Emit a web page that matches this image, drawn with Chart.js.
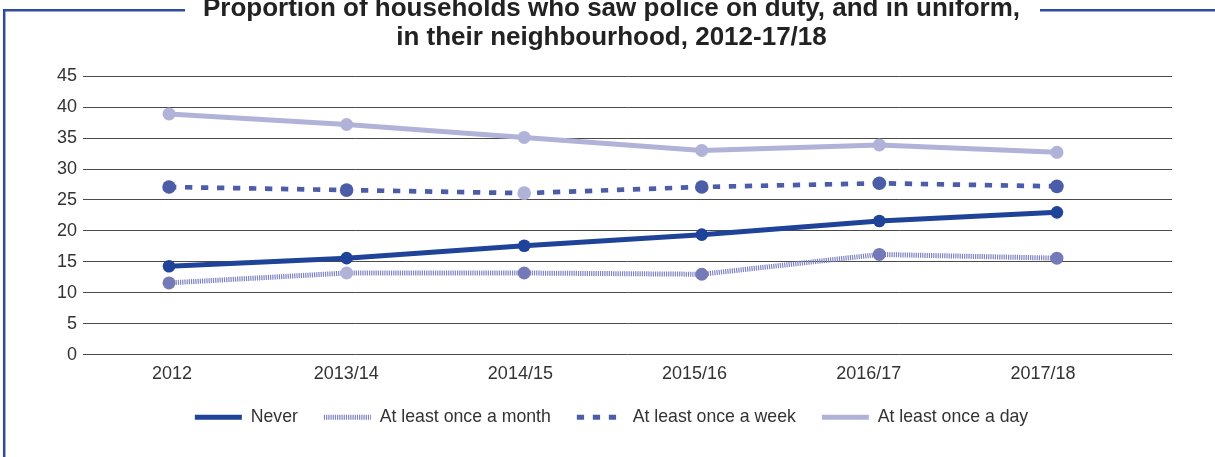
<!DOCTYPE html>
<html>
<head>
<meta charset="utf-8">
<script src="https://cdn.jsdelivr.net/npm/chart.js@4/dist/chart.umd.min.js"></script>
<style>
    html, body { margin: 0; padding: 0; background: #fff; }
    #wrap { width: 1215px; height: 457px; }
</style>
</head>
<body>
<div id="wrap"><canvas id="policeChart" width="1215" height="457"></canvas></div>
<script>
const years = ["2012", "2013/14", "2014/15", "2015/16", "2016/17", "2017/18"];
const yTicks = [0, 5, 10, 15, 20, 25, 30, 35, 40, 45];

const never = [14.3, 15.6, 17.6, 19.4, 21.6, 23.0];
const onceMonth = [11.6, 13.2, 13.2, 13.0, 16.2, 15.6];
const onceWeek = [27.1, 26.6, 26.1, 27.1, 27.7, 27.2];
const onceDay = [38.9, 37.2, 35.1, 33.0, 33.9, 32.7];

const DARK = "#1f4398";
const WEEK = "#4b5ca8";
const MONTH_DOT = "#7479b7";
const MONTH_LINE = "#7d82c2";
const LIGHT = "#b0b2d8";

const toPoints = arr => arr.map((v, i) => ({ x: i, y: v }));

// blue frame round the chart, broken by the title
const framePlugin = {
    id: "frame",
    beforeDraw(chart) {
        const c = chart.ctx;
        c.save();
        c.strokeStyle = "#2f4c9c";
        c.lineWidth = 2.5;
        c.beginPath();
        c.moveTo(4.2, 457);
        c.lineTo(4.2, 10.3);
        c.lineTo(185, 10.3);
        c.moveTo(1040, 10.3);
        c.lineTo(1215, 10.3);
        c.stroke();
        c.restore();
    }
};

const ctx = document.getElementById("policeChart").getContext("2d");

new Chart(ctx, {
    type: "line",
    data: {
        datasets: [
            {
                label: "Never",
                data: toPoints(never),
                borderColor: DARK,
                backgroundColor: DARK,
                pointBackgroundColor: DARK,
                borderWidth: 5,
                pointRadius: 6.3,
                pointBorderWidth: 0,
                tension: 0
            },
            {
                label: "At least once a month",
                data: toPoints(onceMonth),
                borderColor: MONTH_LINE,
                backgroundColor: MONTH_LINE,
                pointBackgroundColor: [MONTH_DOT, LIGHT, MONTH_DOT, MONTH_DOT, MONTH_DOT, MONTH_DOT],
                borderWidth: 5,
                borderDash: [1.2, 1],
                pointRadius: 6.5,
                pointBorderWidth: 0,
                tension: 0
            },
            {
                label: "At least once a week",
                data: toPoints(onceWeek),
                borderColor: WEEK,
                backgroundColor: WEEK,
                pointBackgroundColor: [WEEK, WEEK, LIGHT, WEEK, WEEK, WEEK],
                borderWidth: 4.7,
                borderDash: [7.3, 8.7],
                pointRadius: 6.8,
                pointBorderWidth: 0,
                tension: 0
            },
            {
                label: "At least once a day",
                data: toPoints(onceDay),
                borderColor: LIGHT,
                backgroundColor: LIGHT,
                pointBackgroundColor: LIGHT,
                borderWidth: 5,
                pointRadius: 6.5,
                pointBorderWidth: 0,
                tension: 0
            }
        ]
    },
    options: {
        responsive: false,
        animation: false,
        layout: { padding: { top: 0, left: 51, right: 43, bottom: 21 } },
        plugins: {
            tooltip: { enabled: false },
            title: {
                display: true,
                text: ["Proportion of households who saw police on duty, and in uniform,", "in their neighbourhood, 2012-17/18"],
                color: "#222",
                font: { family: "'Liberation Sans', Arial, sans-serif", size: 26, weight: "bold", lineHeight: 1.1 },
                padding: { top: -5, bottom: 24 }
            },
            legend: {
                position: "bottom",
                labels: {
                    usePointStyle: true,
                    pointStyleWidth: 47,
                    padding: 26,
                    color: "#333",
                    font: { family: "'Liberation Sans', Arial, sans-serif", size: 17.7 },
                    generateLabels(chart) {
                        return chart.data.datasets.map((ds, i) => ({
                            text: ds.label,
                            datasetIndex: i,
                            pointStyle: "line",
                            strokeStyle: ds.borderColor,
                            fillStyle: ds.borderColor,
                            lineWidth: 5,
                            lineDash: ds.borderDash || [],
                            fontColor: "#333",
                            hidden: false
                        }));
                    }
                }
            }
        },
        scales: {
            x: {
                type: "linear",
                display: false,
                min: -0.4843,
                max: 5.648
            },
            xLabels: {
                type: "linear",
                position: "bottom",
                min: -0.511,
                max: 5.741,
                afterBuildTicks: axis => {
                    axis.ticks = years.map((_, i) => ({ value: i }));
                },
                afterFit: axis => {
                    axis.height -= 4;
                },
                grid: { display: false },
                border: { display: false },
                ticks: {
                    autoSkip: false,
                    maxRotation: 0,
                    padding: 1,
                    color: "#333",
                    font: { family: "'Liberation Sans', Arial, sans-serif", size: 18 },
                    callback: v => years[v]
                }
            },
            y: {
                min: 0,
                max: 45,
                afterBuildTicks: axis => {
                    axis.ticks = yTicks.map(v => ({ value: v }));
                },
                grid: { color: "#4a4a4a", lineWidth: 1, drawTicks: false },
                border: { display: false },
                ticks: {
                    padding: 6,
                    color: "#333",
                    font: { family: "'Liberation Sans', Arial, sans-serif", size: 18 }
                }
            }
        }
    },
    plugins: [framePlugin]
});
</script>
</body>
</html>
